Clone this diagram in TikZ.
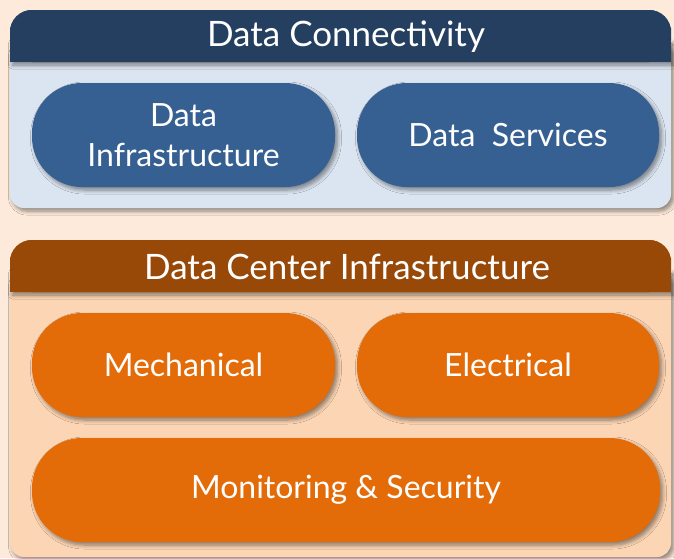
\documentclass[tikz,border=0pt]{standalone}
\usepackage{fontspec}
\setmainfont{Lato}
\usetikzlibrary{shadows.blur}
\definecolor{bgpeach}{HTML}{FDEADA}
\definecolor{navy}{HTML}{243F60}
\definecolor{pillblue}{HTML}{366092}
\definecolor{paleblue}{HTML}{DBE5F1}
\definecolor{brownhdr}{HTML}{984807}
\definecolor{pillorange}{HTML}{E36C09}
\definecolor{peachbody}{HTML}{FCD5B4}
\tikzset{
  softshadow/.style={blur shadow={shadow xshift=2.5pt, shadow yshift=-3pt, shadow blur steps=6, shadow blur radius=4pt, shadow opacity=45}},
  pill/.style={rounded corners=50pt, minimum height=104pt, inner sep=0pt, align=center,
    text=white, font=\fontsize{32}{40}\selectfont, softshadow},
  bluepill/.style={pill, fill=pillblue},
  orangepill/.style={pill, fill=pillorange},
  hdrtext/.style={text=white, font=\fontsize{35}{40}\selectfont, inner sep=0pt}
}
\begin{document}
\begin{tikzpicture}[x=1pt,y=-1pt]
\fill[bgpeach] (0,0) rectangle (674,558);
\useasboundingbox (0,0) rectangle (674,558);
% top panel
\fill[paleblue, rounded corners=14pt, softshadow] (10,40) -- (10,208) -- (671,208) -- (671,40) -- cycle;
\fill[navy, rounded corners=22pt] (10,10) rectangle (671,62);
\fill[navy, softshadow] (10,40) rectangle (671,62);
\fill[navy, rounded corners=22pt] (10,10) rectangle (671,50);
\node[hdrtext] (hdrA) at (346,37) {Data Connectivity};
\node[bluepill, minimum width=303pt] (di) at (183.5,135) {Data\\Infrastructure};
\node[bluepill, minimum width=302pt] (ds) at (508,135) {Data~~Services};
% bottom panel
\fill[peachbody, rounded corners=14pt, softshadow] (10,270) -- (10,557) -- (671,557) -- (671,270) -- cycle;
\fill[brownhdr, rounded corners=22pt] (10,240) rectangle (671,292);
\fill[brownhdr, softshadow] (10,270) rectangle (671,292);
\fill[brownhdr, rounded corners=22pt] (10,240) rectangle (671,280);
\node[hdrtext] (hdrB) at (347,267) {Data Center Infrastructure};
\node[orangepill, minimum width=303pt] (mech) at (183.5,365) {Mechanical};
\node[orangepill, minimum width=302pt] (elec) at (508,365) {Electrical};
\node[orangepill, minimum width=628pt] (mon) at (346,490) {Monitoring \& Security};
\end{tikzpicture}
\end{document}
